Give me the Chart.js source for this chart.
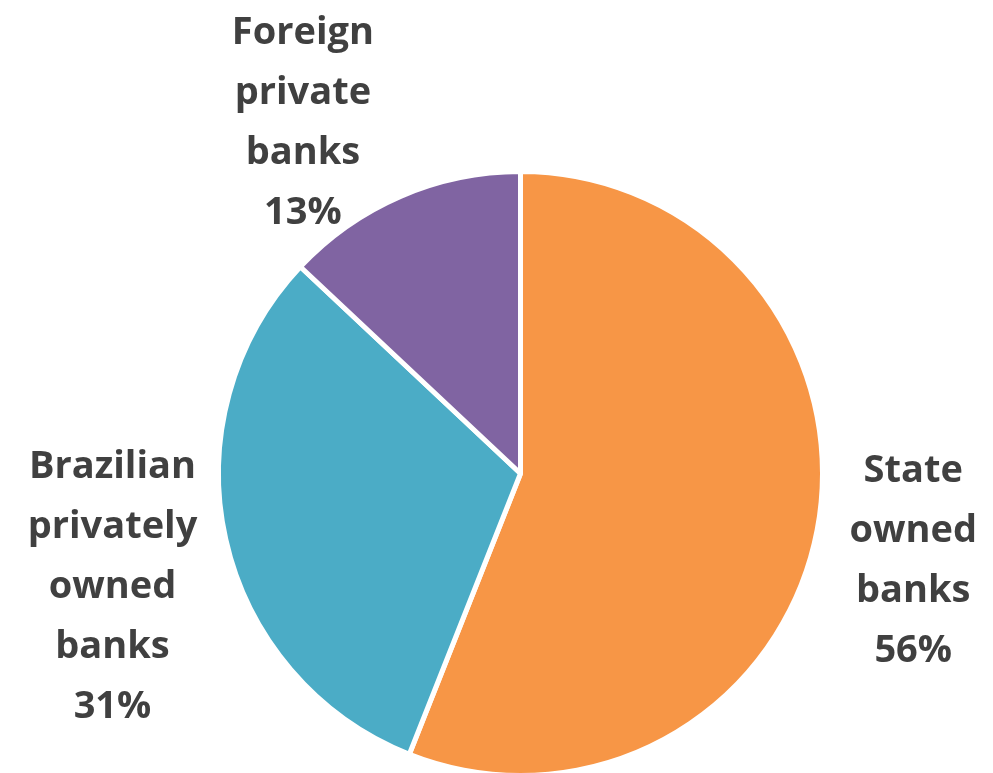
<!DOCTYPE html>
<html>
<head>
<meta charset="utf-8">
<script src="https://cdn.jsdelivr.net/npm/chart.js@4"></script>
<style>
  html, body { margin: 0; padding: 0; background: #ffffff; overflow: hidden; }
  #wrap { width: 993px; height: 773px; overflow: hidden; }
</style>
</head>
<body>
<div id="wrap"><canvas id="c" width="993" height="778"></canvas></div>
<script>
// Ownership of banking assets
const categories = [
  ['State', 'owned', 'banks'],
  ['Brazilian', 'privately', 'owned', 'banks'],
  ['Foreign', 'private', 'banks']
];
const shares = [56, 31, 13];
const sliceColors = ['#F79646', '#4BACC6', '#8064A2'];

// Outside labels: category lines plus the percentage, centred on a point
// placed along each slice's mid-angle.
const outsideLabels = {
  id: 'outsideLabels',
  afterDatasetsDraw(chart, args, opts) {
    const ctx = chart.ctx;
    const meta = chart.getDatasetMeta(0);
    const total = shares.reduce((a, b) => a + b, 0);
    ctx.save();
    ctx.fillStyle = opts.color;
    ctx.font = opts.font;
    ctx.textAlign = 'center';
    ctx.textBaseline = 'middle';
    meta.data.forEach((arc, i) => {
      const p = arc.getProps(['x', 'y', 'startAngle', 'endAngle', 'outerRadius'], true);
      const mid = (p.startAngle + p.endAngle) / 2 + opts.nudge[i] * Math.PI / 180;
      const d = p.outerRadius * opts.distance[i];
      const cx = p.x + Math.cos(mid) * d;
      const cy = p.y + Math.sin(mid) * d;
      const lines = categories[i].concat([Math.round(shares[i] / total * 100) + '%']);
      const h = opts.lineHeight;
      const top = cy - (lines.length - 1) * h / 2 + opts.baselineShift;
      lines.forEach((t, k) => ctx.fillText(t, cx, top + k * h));
    });
    ctx.restore();
  }
};

new Chart(document.getElementById('c'), {
  type: 'pie',
  data: {
    labels: categories.map(c => c.join(' ')),
    datasets: [{
      data: shares,
      backgroundColor: sliceColors,
      borderColor: '#ffffff',
      borderWidth: 5
    }]
  },
  options: {
    responsive: false,
    animation: false,
    layout: { padding: { top: 169, bottom: 0, left: 216, right: 168 } },
    plugins: {
      legend: { display: false },
      tooltip: { enabled: false },
      outsideLabels: {
        color: '#404040',
        font: 'bold 38px "Open Sans"',
        lineHeight: 60,
        baselineShift: 3,
        distance: [1.33, 1.40, 1.375],
        nudge: [1.3, -2.6, -8.2]
      }
    }
  },
  plugins: [outsideLabels]
});
</script>
</body>
</html>
